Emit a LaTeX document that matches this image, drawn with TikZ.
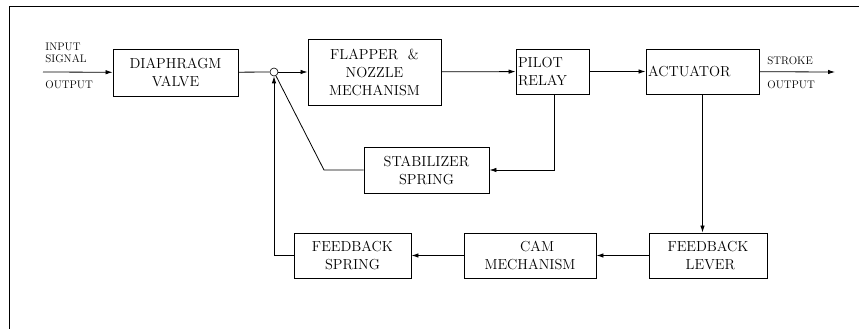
\documentclass[tikz,border=0pt]{standalone}
\usetikzlibrary{arrows.meta}

\begin{document}
\begin{tikzpicture}[x=1pt, y=-1pt, line width=0.8pt,
    -{Latex[length=7pt,width=4.5pt]},
    blk/.style={draw, line width=0.9pt, align=center, inner sep=1pt,
        font=\fontsize{14.5}{18}\selectfont},
    lbl/.style={anchor=west, align=left, inner sep=0pt,
        font=\fontsize{11}{12}\selectfont}]
    \useasboundingbox (0,0) rectangle (859,329);
    \draw[-] (9,329) to (9,6) to (859,6);

    \node[blk, minimum width=125pt, minimum height=47pt] (valve) at (175.5,72.5) {DIAPHRAGM\\VALVE};
    \node[blk, minimum width=133pt, minimum height=66pt] (flap) at (374.5,72) {FLAPPER\ \ \&\\NOZZLE\ \ \\MECHANISM};
    \node[blk, minimum width=73pt, minimum height=45pt, align=left, text width=69pt] (relay) at (552.5,71.5) {PILOT\\RELAY};
    \node[blk, minimum width=113pt, minimum height=45pt, align=left, text width=109pt] (act) at (702.5,71.5) {ACTUATOR};
    \node[blk, minimum width=125pt, minimum height=46pt] (stab) at (426.5,170) {STABILIZER\\SPRING};
    \node[blk, minimum width=117pt, minimum height=45pt] (fbs) at (352.5,255.5) {FEEDBACK\\SPRING};
    \node[blk, minimum width=132pt, minimum height=45pt] (cam) at (530,255.5) {\ \ \ CAM\\MECHANISM};
    \node[blk, minimum width=118pt, minimum height=45pt] (lever) at (708,255.5) {FEEDBACK\\\ LEVER};
    \node[draw, circle, inner sep=0pt, minimum size=8pt, line width=0.6pt] (sum) at (274,72) {};

    \coordinate (in) at (43,72);
    \coordinate (out) at (835,72);
    \coordinate (bend) at (324,170);
    \node[lbl] (insig) at (45,53) {INPUT\\SIGNAL};
    \node[lbl] (inout) at (45,84.5) {OUTPUT};
    \node[lbl] (stroke) at (767,61) {STROKE};
    \node[lbl] (strout) at (767,84.5) {OUTPUT};

    \draw (in) to (valve);
    \draw[-] (valve) to (sum);
    \draw (sum) to (flap);
    \draw (flap) to (relay);
    \draw (relay) to (act);
    \draw (act) to (out);
    \draw (act.south) to (act.south |- lever.north);
    \draw (lever) to (cam);
    \draw (cam) to (fbs);
    \draw (fbs.west) -| (sum.south);
    \draw ([xshift=1.5pt]relay.south) |- (stab.east);
    \draw[-] (stab.west) to (bend) to (sum);
\end{tikzpicture}
\end{document}
